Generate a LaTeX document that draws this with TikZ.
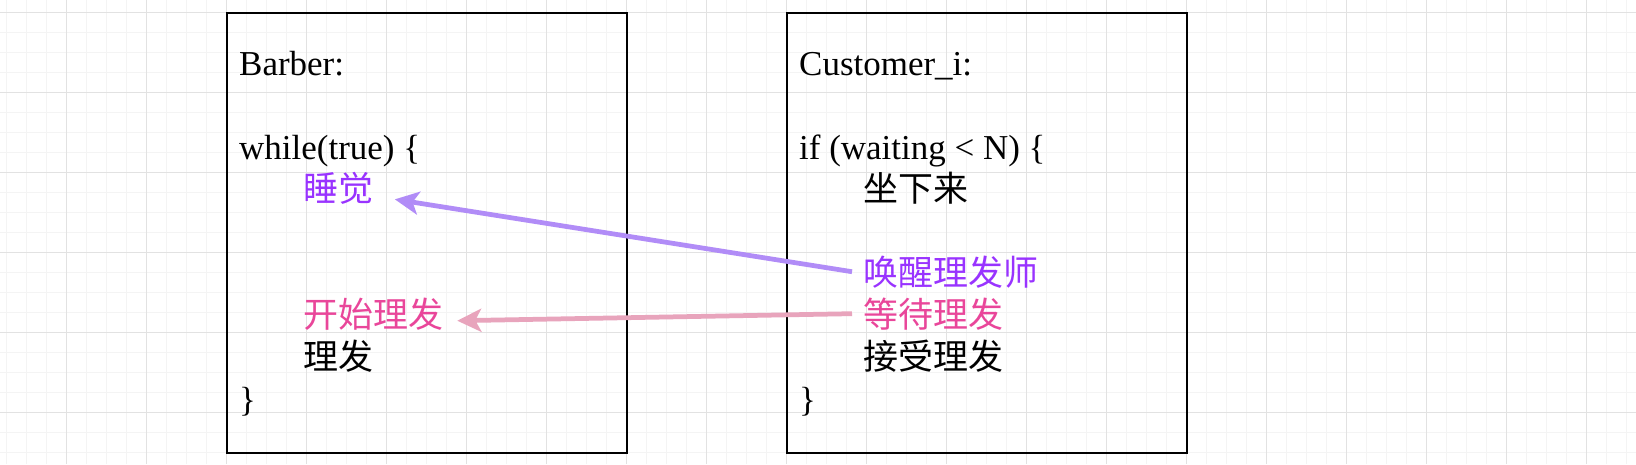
\documentclass[tikz,border=0pt]{standalone}
\usepackage{fontspec}
\setmainfont{Liberation Serif}
\newfontfamily\cjk{Noto Sans CJK SC}
\usetikzlibrary{arrows.meta}

\definecolor{gridminor}{HTML}{F4F4F4}
\definecolor{gridmajor}{HTML}{E2E2E2}
\definecolor{wakeviolet}{HTML}{9933FF}
\definecolor{waitpink}{HTML}{E9469A}
\definecolor{wakearrow}{HTML}{B18CF7}
\definecolor{waitarrow}{HTML}{E8A4BC}

\tikzset{
  code/.style={anchor=base west, font=\fontsize{19.9}{24}\selectfont},
  cjkcode/.style={anchor=base west, font=\cjk\fontsize{19.9}{24}\selectfont},
  box/.style={draw=black, line width=0.04cm},
  signal/.style={line width=0.095cm, -{Stealth[length=0.48cm, width=0.46cm, inset=0.12cm]}},
}

\begin{document}
\begin{tikzpicture}[x=0.02cm, y=-0.02cm]

	\useasboundingbox (0,0) rectangle (1636,464);
	\fill[white] (0,0) rectangle (1636,464);

	% Grid
	\foreach \i in {0,...,81}
		\draw[gridminor, line width=0.02cm] (6.7 + 20*\i, 0) -- (6.7 + 20*\i, 464);
	\foreach \j in {0,...,22}
		\draw[gridminor, line width=0.02cm] (0, 12.7 + 20*\j) -- (1636, 12.7 + 20*\j);
	\foreach \i in {0,...,19}
		\draw[gridmajor, line width=0.02cm] (66.7 + 80*\i, 0) -- (66.7 + 80*\i, 464);
	\foreach \j in {0,...,5}
		\draw[gridmajor, line width=0.02cm] (0, 12.7 + 80*\j) -- (1636, 12.7 + 80*\j);

	% Line positions
	\def\lineh{42}
	\def\firstline{75}
	\def\indent{64}
	\def\barberx{233}
	\def\customerx{793}

	% Boxes
	\draw[box] (226.7, 12.7) rectangle (627.3, 452.7);
	\draw[box] (786.7, 12.7) rectangle (1187.3, 452.7);

	% Barber
	\node[code] (barber) at (\barberx, \firstline) {Barber:};
	\node[code] (bwhile) at (\barberx, \firstline + 2*\lineh) {while(true) \{};
	\node[cjkcode, text=wakeviolet] (sleep) at (\barberx + \indent, \firstline + 3*\lineh) {睡觉};
	\node[cjkcode, text=waitpink] (startcut) at (\barberx + \indent, \firstline + 6*\lineh) {开始理发};
	\node[cjkcode] (cut) at (\barberx + \indent, \firstline + 7*\lineh) {理发};
	\node[code] (bclose) at (\barberx, \firstline + 8*\lineh) {\}};

	% Customer
	\node[code] (customer) at (\customerx, \firstline) {Customer\_i:};
	\node[code] (cif) at (\customerx, \firstline + 2*\lineh) {if (waiting < N) \{};
	\node[cjkcode] (sit) at (\customerx + \indent, \firstline + 3*\lineh) {坐下来};
	\node[cjkcode, text=wakeviolet] (wake) at (\customerx + \indent, \firstline + 5*\lineh) {唤醒理发师};
	\node[cjkcode, text=waitpink] (wait) at (\customerx + \indent, \firstline + 6*\lineh) {等待理发};
	\node[cjkcode] (getcut) at (\customerx + \indent, \firstline + 7*\lineh) {接受理发};
	\node[code] (cclose) at (\customerx, \firstline + 8*\lineh) {\}};

	% Signals
	\draw[signal, wakearrow] ([xshift=-0.1cm]wake.west) -- ([xshift=0.31cm, yshift=-0.23cm]sleep.east);
	\draw[signal, waitarrow] ([xshift=-0.1cm]wait.west) -- ([xshift=0.16cm, yshift=-0.14cm]startcut.east);

\end{tikzpicture}
\end{document}
